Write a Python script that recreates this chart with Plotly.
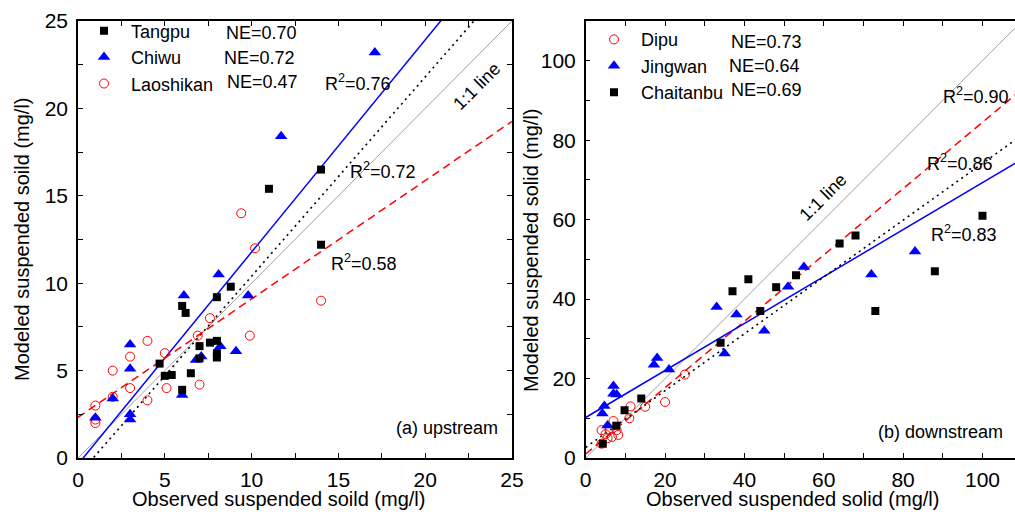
import plotly.graph_objects as go

W, H = 1015, 514
FONT = "Liberation Sans, Arial, sans-serif"

# ---------------- upstream stations: observed vs modeled suspended solid (mg/l)
tangpu_obs = [14.0, 11.0, 14.0, 8.8, 8.0, 6.0, 6.2, 8.0, 7.6, 7.0, 8.0, 8.0, 7.0, 4.7, 5.0, 5.4, 6.5, 6.0]
tangpu_mod = [16.5, 15.4, 12.2, 9.8, 9.2, 8.7, 8.3, 6.7, 6.6, 6.4, 6.0, 5.75, 5.7, 5.4, 4.7, 4.75, 4.85, 3.9]

chiwu_obs = [17.1, 11.7, 8.1, 6.1, 9.8, 8.2, 9.1, 7.1, 6.8, 3.0, 3.0, 6.0, 2.0, 3.0, 3.0, 1.0]
chiwu_mod = [23.2, 18.4, 10.5, 9.3, 9.3, 6.4, 6.1, 5.8, 5.6, 6.5, 5.1, 3.6, 3.4, 2.5, 2.2, 2.3]

laoshikan_obs = [9.4, 10.2, 14.0, 7.6, 6.9, 9.9, 4.0, 5.0, 3.0, 2.0, 3.0, 5.1, 7.0, 2.0, 4.0, 1.0, 1.0, 1.0]
laoshikan_mod = [14.0, 12.0, 9.0, 8.0, 7.0, 7.0, 6.7, 6.0, 5.8, 5.0, 4.0, 4.0, 4.2, 3.5, 3.3, 3.0, 2.2, 2.0]

# ---------------- downstream stations
dipu_obs = [25.0, 20.0, 15.0, 11.3, 11.0, 7.0, 4.0, 6.0, 7.8, 8.2, 5.0, 6.6, 4.0, 5.5]
dipu_mod = [21.0, 14.1, 12.9, 13.0, 10.0, 9.3, 7.0, 7.0, 7.0, 5.8, 6.0, 5.3, 3.6, 5.0]

jingwan_obs = [83.0, 72.0, 55.0, 51.0, 38.0, 33.0, 45.0, 35.0, 18.0, 17.2, 21.0, 7.0, 7.0, 7.8, 4.7, 4.2, 5.5]
jingwan_mod = [52.0, 46.2, 48.1, 43.1, 36.1, 38.0, 32.0, 26.3, 25.2, 23.5, 22.3, 18.1, 16.2, 16.0, 13.1, 11.2, 8.2]

chaitanbu_obs = [100.0, 68.0, 64.0, 88.0, 53.0, 48.0, 41.0, 37.0, 44.0, 73.0, 34.0, 14.0, 9.8, 7.7, 4.3]
chaitanbu_mod = [61.0, 56.0, 54.0, 47.0, 46.0, 43.0, 45.0, 42.0, 37.0, 37.0, 29.0, 15.0, 12.0, 8.1, 3.6]

# ---------------- linear fits (slope, intercept) and statistics
up_names = ["Tangpu", "Chiwu", "Laoshikan"]
up_ne = ["NE=0.70", "NE=0.72", "NE=0.47"]
up_slope = [1.14, 1.214, 0.677]
up_icpt = [-1.0, -0.36, 2.33]
up_r2 = ["0.72", "0.76", "0.58"]
up_r2_pos = [(17.55, 16.46), (16.1, 21.5), (16.5, 11.2)]

down_names = ["Dipu", "Jingwan", "Chaitanbu"]
down_ne = ["NE=0.73", "NE=0.64", "NE=0.69"]
down_slope = [0.835, 0.591, 0.715]
down_icpt = [1.0, 10.2, 2.66]
down_r2 = ["0.90", "0.83", "0.86"]
down_r2_pos = [(98.3, 91.3), (95.3, 56.5), (94.4, 74.4)]

UP_RANGE = [0, 25]
DOWN_XRANGE = [0, 108.2]
DOWN_YRANGE = [0, 110]

BLUE, RED, GREY = "#0000ff", "#ff0000", "#a0a0a0"
line_styles = {"black": dict(color="black", width=1.6, dash="2px,4px"),
               "blue": dict(color=BLUE, width=1.5),
               "red": dict(color=RED, width=1.5, dash="8px,5px")}


def px(xp):
    return xp / W


def py(yp):
    return 1 - yp / H


fig = go.Figure()

# 1:1 reference lines
fig.add_trace(go.Scatter(x=UP_RANGE, y=UP_RANGE, mode="lines", line=dict(color=GREY, width=1),
                         showlegend=False, xaxis="x", yaxis="y", hoverinfo="skip"))
fig.add_trace(go.Scatter(x=[0, 110], y=[0, 110], mode="lines", line=dict(color=GREY, width=1),
                         showlegend=False, xaxis="x2", yaxis="y2", hoverinfo="skip"))

# regression lines
up_line_keys = ["black", "blue", "red"]
for s, b, k in zip(up_slope, up_icpt, up_line_keys):
    xs = [0, 25]
    fig.add_trace(go.Scatter(x=xs, y=[s * v + b for v in xs], mode="lines", line=line_styles[k],
                             showlegend=False, xaxis="x", yaxis="y", hoverinfo="skip"))
down_line_keys = ["red", "blue", "black"]
for s, b, k in zip(down_slope, down_icpt, down_line_keys):
    xs = [0, 110]
    fig.add_trace(go.Scatter(x=xs, y=[s * v + b for v in xs], mode="lines", line=line_styles[k],
                             showlegend=False, xaxis="x2", yaxis="y2", hoverinfo="skip"))

square = dict(symbol="square", size=8, color="black")
triangle = dict(symbol="triangle-up", size=11, color=BLUE)
circle = dict(symbol="circle-open", size=9, color=RED, line=dict(width=1, color=RED))

# upstream scatter
fig.add_trace(go.Scatter(x=laoshikan_obs, y=laoshikan_mod, mode="markers", marker=circle,
                         name="Laoshikan", legend="legend", legendrank=3, xaxis="x", yaxis="y"))
fig.add_trace(go.Scatter(x=chiwu_obs, y=chiwu_mod, mode="markers", marker=triangle,
                         name="Chiwu", legend="legend", legendrank=2, xaxis="x", yaxis="y"))
fig.add_trace(go.Scatter(x=tangpu_obs, y=tangpu_mod, mode="markers", marker=square,
                         name="Tangpu", legend="legend", legendrank=1, xaxis="x", yaxis="y"))

# downstream scatter
fig.add_trace(go.Scatter(x=dipu_obs, y=dipu_mod, mode="markers", marker=circle,
                         name="Dipu", legend="legend2", legendrank=1, xaxis="x2", yaxis="y2"))
fig.add_trace(go.Scatter(x=jingwan_obs, y=jingwan_mod, mode="markers", marker=triangle,
                         name="Jingwan", legend="legend2", legendrank=2, xaxis="x2", yaxis="y2"))
fig.add_trace(go.Scatter(x=chaitanbu_obs, y=chaitanbu_mod, mode="markers", marker=square,
                         name="Chaitanbu", legend="legend2", legendrank=3, xaxis="x2", yaxis="y2"))

tickfont = dict(family=FONT, size=21, color="black")


def axis(domain, rng, dtick, minor, anchor, mirror, standoff):
    return dict(domain=domain, range=rng, dtick=dtick, tick0=0, anchor=anchor, automargin=False,
                showline=True, linecolor="black", linewidth=1.5, mirror=mirror,
                ticks="inside", ticklen=5, tickwidth=1.2, tickcolor="black",
                minor=dict(dtick=minor, ticks="inside", ticklen=5, tickwidth=1.2,
                           tickcolor="black", showgrid=False),
                showgrid=False, zeroline=False, tickfont=tickfont, ticklabelstandoff=standoff)


ydom = [py(458), py(21)]
legend_font = dict(family=FONT, size=18, color="black")
fig.update_layout(
    width=W, height=H,
    margin=dict(l=0, r=0, t=0, b=0, autoexpand=False),
    paper_bgcolor="white", plot_bgcolor="white",
    font=dict(family=FONT, color="black"),
    xaxis=axis([px(78), px(512)], UP_RANGE, 5, 2.5, "y", "ticks", 2),
    yaxis=axis(ydom, UP_RANGE, 5, 2.5, "x", "ticks", 4),
    xaxis2=axis([px(585.7), 1.0], DOWN_XRANGE, 20, 10, "y2", "ticks", 2),
    yaxis2=axis(ydom, DOWN_YRANGE, 20, 10, "x2", False, 4),
    legend=dict(x=px(77), y=py(12.5), xanchor="left", yanchor="top", itemwidth=44,
                font=legend_font, bgcolor="rgba(0,0,0,0)", traceorder="normal"),
    legend2=dict(x=px(587), y=py(21.2), xanchor="left", yanchor="top", itemwidth=44,
                 font=legend_font, bgcolor="rgba(0,0,0,0)", traceorder="normal"),
    showlegend=True,
)

ann = []


def note(text, x, y, ref=("paper", "paper"), size=18, **kw):
    d = dict(text=text, x=x, y=y, xref=ref[0], yref=ref[1], xanchor="center", yanchor="middle",
             showarrow=False, font=dict(family=FONT, size=size, color="black"))
    d.update(kw)
    ann.append(d)


# NE values beside the legend entries
for txt, (xp, yp) in zip(up_ne, [(223.5, 33), (222, 58), (224.5, 82)]):
    note(txt, px(xp), py(yp), xanchor="left")
for txt, (xp, yp) in zip(down_ne, [(728.5, 41.7), (727, 66), (728.5, 90)]):
    note(txt, px(xp), py(yp), xanchor="left")

# R² of each fit
for r2, (x, y) in zip(up_r2, up_r2_pos):
    note("R<sup>2</sup>=" + r2, x, y, ("x", "y"))
for r2, (x, y) in zip(down_r2, down_r2_pos):
    note("R<sup>2</sup>=" + r2, x, y, ("x2", "y2"))

# 1:1 labels and panel tags
note("1:1 line", 23.0, 21.26, ("x", "y"), textangle=-45)
note("1:1 line", 59.9, 65.7, ("x2", "y2"), textangle=-45)
note("(a) upstream", 24.3, 1.71, ("x", "y"), xanchor="right")
note("(b) downstream", 105.7, 6.55, ("x2", "y2"), xanchor="right")

# axis titles
note("Observed suspended soild (mg/l)", px(278), py(499), size=20)
note("Observed suspended solid (mg/l)", px(792), py(499), size=20)
note("Modeled suspended soild (mg/l)", px(22), py(239), size=20, textangle=-90)
note("Modeled suspended solid (mg/l)", px(531), py(250), size=20, textangle=-90)

fig.update_layout(annotations=ann)
fig.write_html("out.html")
